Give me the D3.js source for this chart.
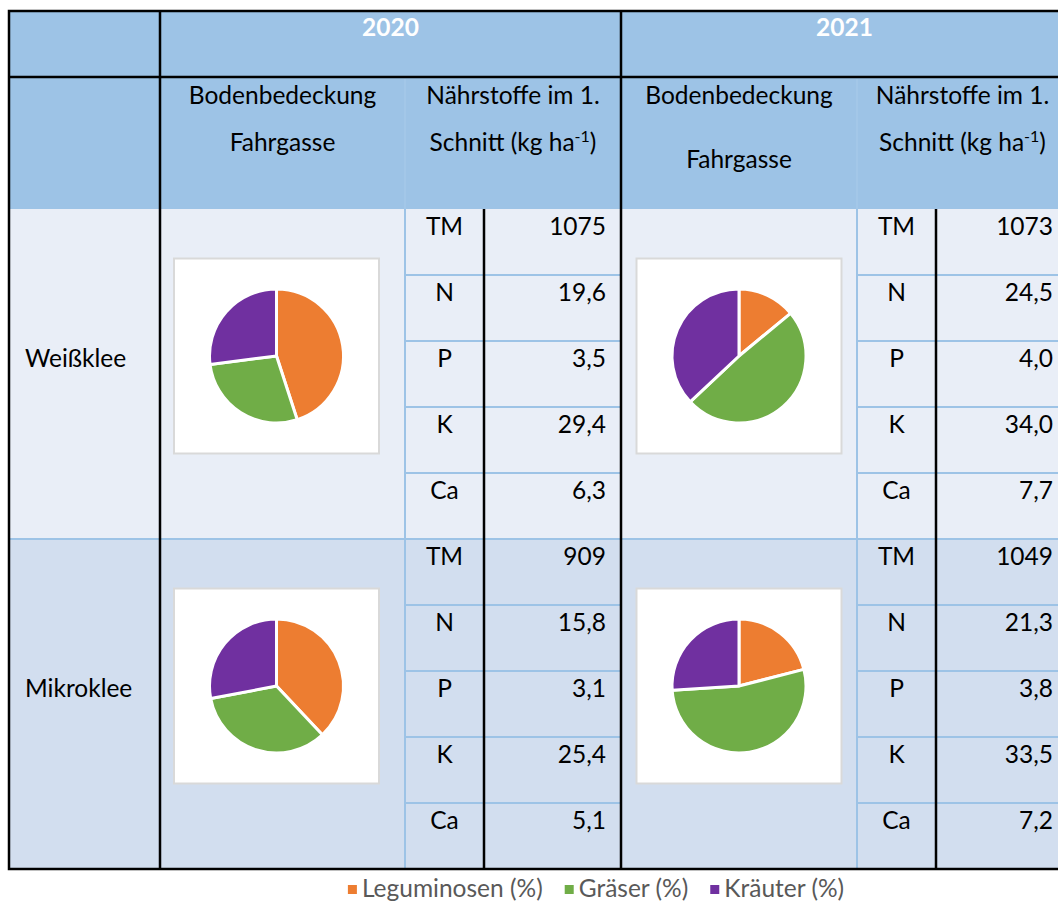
<!DOCTYPE html>
<html>
<head>
<meta charset="utf-8">
<script src="https://cdn.jsdelivr.net/npm/d3@7"></script>
<style>
  body { margin: 0; background: #fff; }
  svg { display: block; }
</style>
</head>
<body>
<div id="chart"></div>
<script>
// data
const years = ["2020", "2021"];
const crops = ["Weißklee", "Mikroklee"];
const nutrients = ["TM", "N", "P", "K", "Ca"];

const weisskleeNutrients2020 = [1075, 19.6, 3.5, 29.4, 6.3];
const weisskleeNutrients2021 = [1073, 24.5, 4.0, 34.0, 7.7];
const mikrokleeNutrients2020 = [909, 15.8, 3.1, 25.4, 5.1];
const mikrokleeNutrients2021 = [1049, 21.3, 3.8, 33.5, 7.2];

const coverGroups = ["Leguminosen (%)", "Gräser (%)", "Kräuter (%)"];
const weisskleeCover2020 = [45, 28, 27];
const weisskleeCover2021 = [14, 49, 37];
const mikrokleeCover2020 = [38, 34, 28];
const mikrokleeCover2021 = [21, 53, 26];

const cells = [
  { crop: "Weißklee", year: "2020", values: weisskleeNutrients2020, cover: weisskleeCover2020 },
  { crop: "Weißklee", year: "2021", values: weisskleeNutrients2021, cover: weisskleeCover2021 },
  { crop: "Mikroklee", year: "2020", values: mikrokleeNutrients2020, cover: mikrokleeCover2020 },
  { crop: "Mikroklee", year: "2021", values: mikrokleeNutrients2021, cover: mikrokleeCover2021 }
];

// layout
const width = 1058;
const height = 902;
const font = "Lato, 'Open Sans', sans-serif";
const fontSize = 24.5;

const tLeft = 9, tRight = 1068, tTop = 11;
const headSplit = 77, bodyTop = 209, tBottom = 869;
const firstCol = 160;
// per year: pie column start, label column start, value column start, end
const yearCols = {
  "2020": { x0: 160, lab: 405, val: 484, x1: 621 },
  "2021": { x0: 621, lab: 857, val: 936, x1: 1068 }
};

const headBlue = "#9dc3e6";
const lineBlue = "#9dc3e6";
const rowFill = d3.scaleOrdinal().domain(crops).range(["#e9eef7", "#d2deef"]);
const color = d3.scaleOrdinal().domain(coverGroups).range(["#ed7d31", "#70ad47", "#7030a0"]);

const cropY = d3.scaleBand().domain(crops).range([bodyTop, tBottom]);
const nutY = d3.scaleBand().domain(nutrients).range([0, cropY.bandwidth()]);

const de = d3.formatLocale({ decimal: ",", thousands: ".", grouping: [3], currency: ["", " €"] });
const fmt = (v, i) => (i === 0 ? de.format("d")(v) : de.format(".1f")(v));

const svg = d3.create("svg")
  .attr("width", width)
  .attr("height", height)
  .attr("viewBox", [0, 0, width, height])
  .style("font-family", font);

// backgrounds
svg.append("rect")
  .attr("x", tLeft).attr("y", tTop)
  .attr("width", tRight - tLeft).attr("height", bodyTop - tTop)
  .attr("fill", headBlue);

svg.selectAll("rect.row")
  .data(crops)
  .join("rect")
  .attr("class", "row")
  .attr("x", tLeft)
  .attr("y", (d) => cropY(d))
  .attr("width", tRight - tLeft)
  .attr("height", cropY.bandwidth())
  .attr("fill", (d) => rowFill(d));

const line = (x1, y1, x2, y2, stroke, w) =>
  svg.append("line")
    .attr("x1", x1).attr("y1", y1).attr("x2", x2).attr("y2", y2)
    .attr("stroke", stroke).attr("stroke-width", w);

// light blue grid
years.forEach((yr) => {
  const c = yearCols[yr];
  line(c.lab, headSplit + 2, c.lab, bodyTop, "#a6c9e9", 1.5);
  line(c.lab, bodyTop, c.lab, tBottom, lineBlue, 2);
  crops.forEach((cr) => {
    nutrients.slice(1).forEach((n) => {
      const y = cropY(cr) + nutY(n);
      line(c.lab, y, c.x1, y, lineBlue, 2);
    });
  });
});
line(tLeft, cropY("Mikroklee"), tRight, cropY("Mikroklee"), lineBlue, 2);

// black grid
const black = "#000";
svg.append("rect")
  .attr("x", tLeft).attr("y", tTop)
  .attr("width", tRight - tLeft).attr("height", tBottom - tTop)
  .attr("fill", "none").attr("stroke", black).attr("stroke-width", 2.5);
line(tLeft, headSplit, tRight, headSplit, black, 2.5);
line(firstCol, tTop, firstCol, tBottom, black, 2.5);
line(yearCols["2020"].x1, tTop, yearCols["2020"].x1, tBottom, black, 2.5);
years.forEach((yr) => {
  const c = yearCols[yr];
  line(c.val, bodyTop, c.val, tBottom, black, 2.5);
});

// header texts
const text = (x, y, str, anchor = "middle") =>
  svg.append("text")
    .attr("x", x).attr("y", y)
    .attr("text-anchor", anchor)
    .attr("font-size", fontSize)
    .attr("fill", "#000")
    .text(str);

years.forEach((yr) => {
  const c = yearCols[yr];
  text((c.x0 + c.x1) / 2, 36, yr)
    .attr("fill", "#fff")
    .attr("font-weight", "bold");
  const pieMid = (c.x0 + c.lab) / 2;
  const nutMid = (c.lab + c.x1) / 2;
  text(pieMid, 104, "Bodenbedeckung");
  text(pieMid, yr === "2020" ? 151 : 168, "Fahrgasse");
  text(nutMid, 104, "Nährstoffe im 1.");
  const t = text(nutMid, 151, "Schnitt (kg ha");
  t.append("tspan").attr("font-size", 16).attr("dy", -9).text("-1");
  t.append("tspan").attr("dy", 9).text(")");
});

// row labels
crops.forEach((cr) => {
  text(25, cropY(cr) + cropY.bandwidth() / 2 - 7, cr, "start");
});

// cells: nutrient table + pie
const pie = d3.pie().sort(null).value((d) => d.value);
const radius = 67;
const arc = d3.arc().innerRadius(0).outerRadius(radius);
const boxW = 205, boxH = 195;

cells.forEach((cell) => {
  const c = yearCols[cell.year];
  const y0 = cropY(cell.crop);

  nutrients.forEach((n, i) => {
    const y = y0 + nutY(n) + 26;
    text((c.lab + c.val) / 2, y, n);
    text(c.x1 - 15, y, fmt(cell.values[i], i), "end");
  });

  const cx = (c.x0 + c.lab) / 2 - (cell.year === "2020" ? 6 : 0);
  const cy = y0 + cropY.bandwidth() / 2 - 18;

  svg.append("rect")
    .attr("x", cx - boxW / 2).attr("y", cy - boxH / 2)
    .attr("width", boxW).attr("height", boxH)
    .attr("fill", "#fff")
    .attr("stroke", "#d9d9d9").attr("stroke-width", 2);

  svg.append("g")
    .attr("transform", `translate(${cx},${cy})`)
    .selectAll("path")
    .data(pie(coverGroups.map((g, i) => ({ group: g, value: cell.cover[i] }))))
    .join("path")
    .attr("d", arc)
    .attr("fill", (d) => color(d.data.group))
    .attr("stroke", "#fff")
    .attr("stroke-width", 3)
    .attr("stroke-linejoin", "round");
});

// legend
const legend = svg.append("g");
let lx = 0;
const gap = 22;
const items = legend.selectAll("g")
  .data(coverGroups)
  .join("g");
items.append("rect")
  .attr("y", -4).attr("width", 9).attr("height", 9)
  .attr("fill", (d) => color(d));
items.append("text")
  .attr("x", 14).attr("y", 8)
  .attr("font-size", fontSize)
  .attr("fill", "#595959")
  .text((d) => d);

d3.select("#chart").node().appendChild(svg.node());

items.each(function () {
  const w = this.getBBox().width;
  d3.select(this).attr("transform", `translate(${lx},0)`);
  lx += w + gap;
});
legend.attr("transform", `translate(${596 - (lx - gap) / 2},889)`);
</script>
</body>
</html>
